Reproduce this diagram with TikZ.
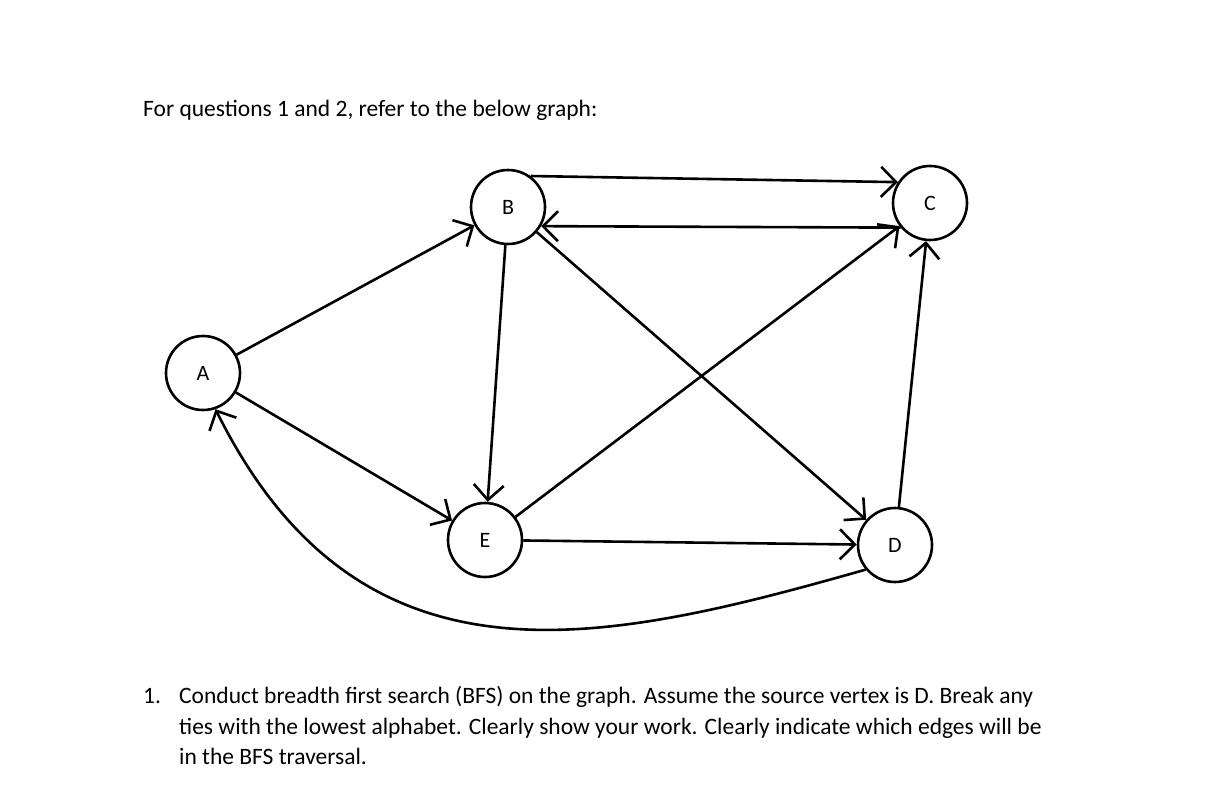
\documentclass[tikz,border=0pt]{standalone}
\usepackage{fontspec}
\setmainfont{Carlito}
\usetikzlibrary{arrows.meta}
\begin{document}
\begin{tikzpicture}[x=1pt,y=-1pt,
  v/.style={circle,draw,line width=2.6pt,minimum size=74pt,inner sep=0pt,font=\fontsize{22}{26}\selectfont},
  e/.style={line width=2.6pt,-{Straight Barb[length=15pt,width=30pt,line width=2.6pt]}},
  txt/.style={anchor=base west,inner sep=0pt,font=\fontsize{23.5}{28}\selectfont}]
\useasboundingbox (0,0) rectangle (1206,797);
\node[txt] (h) at (143,117) {For questions 1 and 2, refer to the below graph:};
\node[v] (A) at (203,373) {A};
\node[v] (B) at (508,207) {B};
\node[v] (C) at (930,203) {C};
\node[v] (E) at (485,540) {E};
\node[v] (D) at (895,545) {D};
\draw[e] (A) -- (B);
\draw[e] (B.54) -- (C.147);
\draw[e] (C.-140) -- (B.-30);
\draw[e] (B) -- (E);
\draw[e] (B) -- (D);
\draw[e] (E) -- (C);
\draw[e] (D) -- (C);
\draw[e] (A) -- (E);
\draw[e] (E) -- (D);
\draw[e] (D.220) .. controls (600,645) and (360,700) .. (A.-71);
\node[txt] (n1) at (143,703) {1.};
\node[txt] (l1) at (179,703) {Conduct breadth first search (BFS) on the graph. Assume the source vertex is D. Break any};
\node[txt] (l2) at (179,734) {ties with the lowest alphabet. Clearly show your work. Clearly indicate which edges will be};
\node[txt] (l3) at (179,764) {in the BFS traversal.};
\end{tikzpicture}
\end{document}
